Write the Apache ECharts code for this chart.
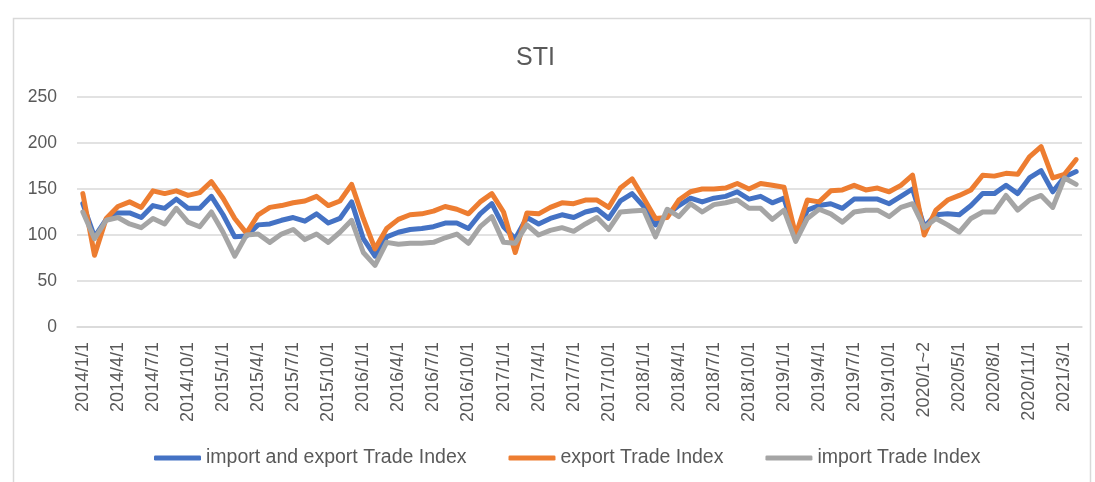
<!DOCTYPE html>
<html lang="en">
<head>
    <meta charset="UTF-8">
    <title>STI</title>
    <script src="https://cdn.jsdelivr.net/npm/echarts@6/dist/echarts.min.js"></script>
    <style>
        html, body {
            margin: 0;
            padding: 0;
            background: #fff;
        }

        #sti {
            width: 1095px;
            height: 482px;
        }
    </style>
</head>
<body>
    <div id="sti"></div>

    <script>
        // 月份（2020、2021年1~2月合并）
        var months = [
            '2014/1/1', '2014/2/1', '2014/3/1', '2014/4/1', '2014/5/1', '2014/6/1', '2014/7/1', '2014/8/1', '2014/9/1', '2014/10/1', '2014/11/1', '2014/12/1',
            '2015/1/1', '2015/2/1', '2015/3/1', '2015/4/1', '2015/5/1', '2015/6/1', '2015/7/1', '2015/8/1', '2015/9/1', '2015/10/1', '2015/11/1', '2015/12/1',
            '2016/1/1', '2016/2/1', '2016/3/1', '2016/4/1', '2016/5/1', '2016/6/1', '2016/7/1', '2016/8/1', '2016/9/1', '2016/10/1', '2016/11/1', '2016/12/1',
            '2017/1/1', '2017/2/1', '2017/3/1', '2017/4/1', '2017/5/1', '2017/6/1', '2017/7/1', '2017/8/1', '2017/9/1', '2017/10/1', '2017/11/1', '2017/12/1',
            '2018/1/1', '2018/2/1', '2018/3/1', '2018/4/1', '2018/5/1', '2018/6/1', '2018/7/1', '2018/8/1', '2018/9/1', '2018/10/1', '2018/11/1', '2018/12/1',
            '2019/1/1', '2019/2/1', '2019/3/1', '2019/4/1', '2019/5/1', '2019/6/1', '2019/7/1', '2019/8/1', '2019/9/1', '2019/10/1', '2019/11/1', '2019/12/1',
            '2020/1~2', '2020/3/1', '2020/4/1', '2020/5/1', '2020/6/1', '2020/7/1', '2020/8/1', '2020/9/1', '2020/10/1', '2020/11/1', '2020/12/1',
            '2021/1~2', '2021/3/1', '2021/4/1'
        ];

        // 进出口贸易指数
        var totalIndex = [
            134, 98, 117, 124, 124, 119, 132, 129, 139, 129, 129, 142,
            122, 98, 99, 111, 112, 116, 119, 115, 123, 113, 118, 136,
            96, 77, 98, 103, 106, 107, 109, 113, 113, 107, 123, 134,
            109, 96, 119, 112, 118, 122, 119, 125, 128, 118, 137, 145,
            131, 111, 122, 132, 140, 136, 140, 142, 147, 139, 142, 135,
            140, 98, 127, 132, 134, 129, 139, 139, 139, 134, 142, 150,
            109, 122, 123, 122, 132, 145, 145, 154, 145, 162, 170,
            147, 163, 169
        ];

        // 出口贸易指数
        var exportIndex = [
            145, 78, 118, 131, 136, 130, 148, 145, 148, 143, 146, 158,
            140, 118, 102, 122, 130, 132, 135, 137, 142, 132, 137, 155,
            118, 85, 107, 117, 122, 123, 126, 131, 128, 123, 136, 145,
            125, 81, 124, 123, 130, 135, 134, 138, 138, 130, 151, 161,
            140, 118, 119, 138, 147, 150, 150, 151, 156, 150, 156, 154,
            152, 100, 138, 136, 148, 149, 154, 149, 151, 147, 154, 165,
            100, 127, 138, 143, 149, 165, 164, 167, 166, 185, 196,
            162, 166, 182
        ];

        // 进口贸易指数
        var importIndex = [
            125, 96, 116, 119, 112, 108, 118, 112, 129, 114, 109, 125,
            103, 77, 100, 101, 92, 101, 106, 95, 101, 92, 103, 116,
            81, 67, 92, 90, 91, 91, 92, 97, 101, 91, 109, 120,
            92, 91, 111, 100, 105, 108, 104, 112, 119, 106, 125, 126,
            127, 98, 128, 120, 134, 125, 133, 135, 138, 129, 129, 117,
            127, 93, 118, 128, 123, 114, 125, 127, 127, 120, 130, 134,
            108, 118, 111, 103, 118, 125, 125, 143, 127, 138, 143,
            130, 162, 155
        ];

        var yTicks = [0, 50, 100, 150, 200, 250];

        var textColor = '#595959';
        var fontName = 'Liberation Sans';

        function lineSeries(name, data, color) {
            return {
                name: name,
                type: 'line',
                data: data,
                symbol: 'none',
                lineStyle: { width: 5, color: color, join: 'round', cap: 'round' },
                itemStyle: { color: color },
                emphasis: { disabled: true }
            };
        }

        var chart = echarts.init(document.getElementById('sti'));
        chart.setOption({
            animation: false,
            backgroundColor: '#fff',
            textStyle: { fontFamily: fontName },
            graphic: [{
                type: 'rect',
                left: 11,
                top: 16,
                shape: { width: 1077, height: 480 },
                style: { fill: 'none', stroke: '#d9d9d9', lineWidth: 1.5 },
                silent: true
            }],
            title: {
                text: 'STI',
                left: 511,
                top: 41,
                textStyle: { color: textColor, fontSize: 25, fontWeight: 'normal', fontFamily: fontName }
            },
            legend: {
                bottom: 9,
                left: 149,
                icon: 'roundRect',
                itemWidth: 47,
                itemHeight: 5,
                itemGap: 42,
                textStyle: { color: textColor, fontSize: 19.5, fontFamily: fontName }
            },
            grid: {
                left: 77,
                right: 13,
                top: 97,
                height: 230,
                containLabel: false
            },
            xAxis: {
                type: 'category',
                data: months,
                boundaryGap: true,
                axisTick: { show: false },
                axisLine: { lineStyle: { color: '#d9d9d9', width: 1.5 } },
                axisLabel: {
                    interval: 2,
                    rotate: 90,
                    margin: 15,
                    color: textColor,
                    fontSize: 18,
                    fontFamily: fontName
                }
            },
            yAxis: {
                type: 'value',
                min: yTicks[0],
                max: yTicks[yTicks.length - 1],
                interval: 50,
                axisLine: { show: false },
                axisTick: { show: false },
                axisLabel: { margin: 20, color: textColor, fontSize: 17.5, fontFamily: fontName },
                splitLine: { lineStyle: { color: '#d9d9d9', width: 1.5 } }
            },
            series: [
                lineSeries('import and export Trade Index', totalIndex, '#4472C4'),
                lineSeries('export Trade Index', exportIndex, '#ED7D31'),
                lineSeries('import Trade Index', importIndex, '#A5A5A5')
            ]
        });
    </script>
</body>
</html>
